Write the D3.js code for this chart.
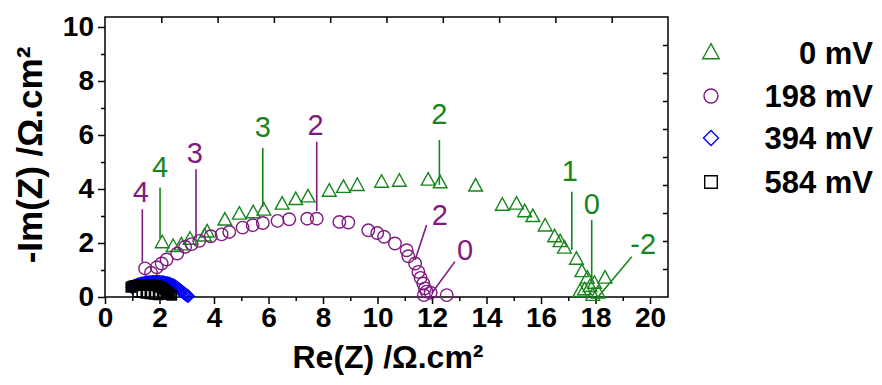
<!DOCTYPE html>
<html><head><meta charset="utf-8">
<script src="https://cdn.jsdelivr.net/npm/d3@7"></script>
<style>
html,body{margin:0;padding:0;background:#fff;}
svg{display:block;font-family:"Liberation Sans",Arial,sans-serif;}
</style></head>
<body><svg id="c" width="882" height="385"></svg>
<script>
// ---- data ----
const series = ["0 mV","198 mV","394 mV","584 mV"];
const colors = ["#17861a","#7f1a80","#0000ff","#000000"];
const shapes = ["triangle","circle","diamond","square"];

const re0  = [2.10,2.50,2.80,3.12,3.65,3.75,4.40,4.93,5.44,5.83,6.50,7.00,7.45,8.23,8.75,9.26,10.15,10.80,11.86,12.30,13.60,14.58,15.10,15.40,15.70,16.15,16.50,16.70,16.86,17.30,17.50,17.70,17.96,18.35,17.80,17.60,17.43,18.10,17.90];
const im0  = [2.00,1.86,1.92,2.13,2.25,2.40,2.84,3.06,3.11,3.21,3.43,3.60,3.70,3.91,4.05,4.12,4.24,4.28,4.32,4.22,4.10,3.39,3.43,3.15,2.97,2.62,2.22,2.04,1.80,1.39,0.93,0.69,0.50,0.69,0.38,0.26,0.20,0.14,0.05];

const re198 = [1.47,1.69,1.90,2.08,2.26,2.65,2.94,3.18,3.46,3.88,4.28,4.56,5.05,5.42,5.79,6.33,6.76,7.42,7.77,8.60,8.93,9.66,9.99,10.24,10.64,11.07,11.13,11.38,11.50,11.58,11.68,11.74,11.80,11.70,11.95,12.54];
const im198 = [1.06,0.90,1.10,1.24,1.39,1.61,1.86,1.96,2.08,2.25,2.32,2.41,2.57,2.66,2.74,2.82,2.88,2.90,2.90,2.78,2.76,2.47,2.37,2.23,1.98,1.73,1.51,1.24,0.93,0.71,0.50,0.32,0.20,0.07,0.16,0.07];

const re394 = [1.00,1.05,1.10,1.15,1.20,1.25,1.30,1.35,1.40,1.45,1.50,1.55,1.60,1.65,1.70,1.75,1.80,1.85,1.90,1.95,2.00,2.05,2.10,2.15,2.20,2.25,2.30,2.35,2.40,2.45,2.50,2.55,2.60,2.65,2.70,2.75,2.80,2.85,2.90,2.95,3.00,3.05];
const im394 = [0.35,0.39,0.42,0.44,0.46,0.48,0.49,0.50,0.51,0.52,0.53,0.54,0.54,0.55,0.55,0.56,0.56,0.56,0.56,0.56,0.56,0.55,0.55,0.54,0.53,0.52,0.51,0.50,0.48,0.46,0.44,0.41,0.38,0.34,0.30,0.26,0.22,0.18,0.14,0.10,0.06,0.03];

const re584 = [0.95,1.00,1.05,1.10,1.15,1.20,1.25,1.30,1.35,1.40,1.45,1.50,1.55,1.60,1.65,1.70,1.75,1.80,1.85,1.90,1.95,2.00,2.05,2.10,2.15,2.20,2.25,2.30,2.35,2.40,2.45,1.20,1.35,1.50,1.65,1.80,1.95,2.10,2.25];
const im584 = [0.36,0.39,0.41,0.42,0.43,0.44,0.44,0.45,0.45,0.45,0.45,0.45,0.45,0.45,0.44,0.44,0.44,0.43,0.42,0.41,0.40,0.38,0.36,0.33,0.30,0.26,0.22,0.18,0.14,0.10,0.06,0.18,0.16,0.14,0.12,0.10,0.08,0.10,0.12];

const xTicks = [0,2,4,6,8,10,12,14,16,18,20];
const yTicks = [0,2,4,6,8,10];

// frequency annotations: text, series index, label x/y, line x1,y1,x2,y2 (data units)
const annText = ["4","3","2","1","0","-2","4","3","2","2","0"];
const annSeries = [0,0,0,0,0,0,1,1,1,1,1];
const annLx = [2.02,5.79,12.27,17.06,17.86,19.75,1.31,3.30,7.73,12.29,13.21];
const annLy = [4.83,6.30,6.78,4.70,3.47,1.99,3.90,5.34,6.37,3.04,1.74];
const annX1 = [2.02,5.79,12.27,17.13,17.86,19.33,1.37,3.34,7.77,11.80,12.84];
const annY1 = [4.06,5.52,5.81,3.90,2.85,1.49,3.25,4.73,5.75,2.67,1.31];
const annX2 = [2.02,5.79,12.27,17.13,17.86,18.10,1.37,3.34,7.77,11.38,11.99];
const annY2 = [2.17,3.34,4.15,1.74,0.63,0.01,1.30,2.17,3.19,1.37,0.14];

// ---- layout ----
const L=105, R=668, T=17, B=297;
const svg = d3.select("#c");
const x = d3.scaleLinear().domain([0,20.66]).range([L,R]);
const y = d3.scaleLinear().domain([0,10.37]).range([B,T]);
const xTop = d3.scaleLinear().domain([0,20]).range([L,R]);
const yRight = d3.scaleLinear().domain([0,10]).range([B,T]);

// frame
svg.append("rect").attr("x",L).attr("y",T).attr("width",R-L).attr("height",B-T)
  .attr("fill","none").attr("stroke","#000").attr("stroke-width",1.5);

// bottom axis
svg.append("g").attr("transform",`translate(0,${B})`)
  .call(d3.axisBottom(x).tickValues(xTicks).tickSize(7).tickPadding(3).tickFormat(d3.format("d")));
svg.append("g").attr("transform",`translate(0,${B})`)
  .call(d3.axisBottom(x).tickValues(d3.range(1,21,2)).tickSize(4).tickFormat(""));
// left axis
svg.append("g").attr("transform",`translate(${L},0)`)
  .call(d3.axisLeft(y).tickValues(yTicks).tickSize(7).tickPadding(4).tickFormat(d3.format("d")));
svg.append("g").attr("transform",`translate(${L},0)`)
  .call(d3.axisLeft(y).tickValues([1,3,5,7,9]).tickSize(4).tickFormat(""));
// top axis (inward ticks)
svg.append("g").attr("transform",`translate(0,${T})`)
  .call(d3.axisBottom(xTop).tickValues(d3.range(2,20,2)).tickSize(6).tickFormat(""));
// right axis (inward ticks)
svg.append("g").attr("transform",`translate(${R},0)`)
  .call(d3.axisLeft(yRight).tickValues(d3.range(1,10,1)).tickSize(5).tickFormat(""));

svg.selectAll(".domain").remove();
svg.selectAll(".tick line").attr("stroke","#000").attr("stroke-width",1.5);
svg.selectAll(".tick text").attr("fill","#000").attr("font-size",28).attr("font-weight","bold")
  .attr("font-family","'Liberation Sans',Arial,sans-serif");

// axis titles
svg.append("text").attr("x",388).attr("y",368).attr("text-anchor","middle")
  .attr("font-size",32).attr("font-weight","bold").text("Re(Z) /Ω.cm²");
svg.append("text").attr("transform",`translate(42,${155}) rotate(-90)`).attr("text-anchor","middle")
  .attr("font-size",35).attr("font-weight","bold").text("-Im(Z) /Ω.cm²");

// symbol paths
function symPath(shape, s){
  if(shape==="triangle") return `M0,${-s*0.62}L${s*0.55},${s*0.38}L${-s*0.55},${s*0.38}Z`;
  if(shape==="diamond") return `M0,${-s*0.5}L${s*0.5},0L0,${s*0.5}L${-s*0.5},0Z`;
  if(shape==="square") return `M${-s*0.42},${-s*0.42}h${s*0.84}v${s*0.84}h${-s*0.84}Z`;
  return d3.symbol(d3.symbolCircle, Math.PI*(s*0.5)*(s*0.5))();
}

const allRe=[re0,re198,re394,re584], allIm=[im0,im198,im394,im584];
const sizes=[12.5,12.5,12,11];
const plot = svg.append("g");
series.forEach((s,i)=>{
  const pts = allRe[i].map((v,j)=>({re:v,im:allIm[i][j]}));
  plot.append("g").selectAll("path").data(pts).join("path")
    .attr("transform",d=>`translate(${x(d.re)},${y(d.im)})`)
    .attr("d",symPath(shapes[i],sizes[i]))
    .attr("fill","none").attr("stroke",colors[i]).attr("stroke-width",i>=2?1.6:1.4);
});

// annotations
const ann = annText.map((t,i)=>({t,c:colors[annSeries[i]],lx:annLx[i],ly:annLy[i],x1:annX1[i],y1:annY1[i],x2:annX2[i],y2:annY2[i]}));
svg.append("g").selectAll("line").data(ann).join("line")
  .attr("x1",d=>x(d.x1)).attr("y1",d=>y(d.y1)).attr("x2",d=>x(d.x2)).attr("y2",d=>y(d.y2))
  .attr("stroke",d=>d.c).attr("stroke-width",1.6);
svg.append("g").selectAll("text").data(ann).join("text")
  .attr("x",d=>x(d.lx)).attr("y",d=>y(d.ly)).attr("dy","0.36em").attr("text-anchor","middle")
  .attr("font-size",29).attr("fill",d=>d.c).text(d=>d.t);

// legend
const legY=[53,96,138,182];
const leg = svg.append("g");
series.forEach((s,i)=>{
  leg.append("path").attr("transform",`translate(711,${legY[i]})`)
    .attr("d",symPath(shapes[i],i===1?14:15))
    .attr("fill","none").attr("stroke",colors[i]).attr("stroke-width",1.4);
  leg.append("text").attr("x",873).attr("y",legY[i]).attr("dy","0.36em").attr("text-anchor","end")
    .attr("font-size",31).attr("font-weight","bold").text(s);
});
</script></body></html>
